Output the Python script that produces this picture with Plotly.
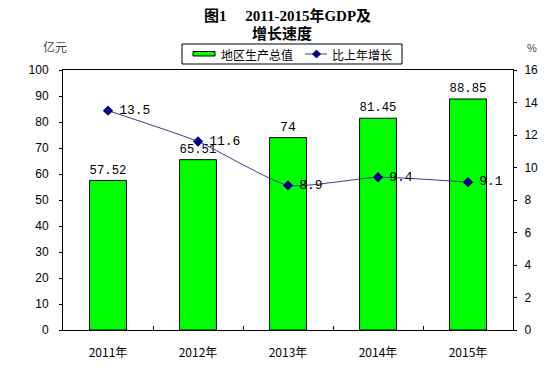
import plotly.graph_objects as go

years = ["2011年", "2012年", "2013年", "2014年", "2015年"]
gdp = [57.52, 65.51, 74, 81.45, 88.85]
gdp_labels = ["57.52", "65.51", "74", "81.45", "88.85"]
growth = [13.5, 11.6, 8.9, 9.4, 9.1]
growth_labels = ["13.5", "11.6", "8.9", "9.4", "9.1"]

# page body has an 8px margin, so the figure is drawn at (8, 8) on the 551x379 page
OFF = 8
W, H = 551 - OFF, 379 - OFF
L, R, T, B = 63 - OFF, 513 - OFF, 70 - OFF, 330 - OFF


def px(X):
    return (X - OFF - L) / (R - L)


def py(Y):
    return (B - (Y - OFF)) / (B - T)


fig = go.Figure()
fig.add_trace(go.Bar(
    x=years, y=gdp, name="地区生产总值",
    marker=dict(color="#00ff00", line=dict(color="black", width=1)),
    width=0.41,
    text=gdp_labels, textposition="outside",
    textfont=dict(family="Liberation Mono", size=13, color="black"),
    cliponaxis=False, showlegend=False,
))
fig.add_trace(go.Scatter(
    x=years, y=growth, name="比上年增长", yaxis="y2",
    mode="lines+markers+text",
    line=dict(color="#3a3a9a", width=1, shape="spline", smoothing=0.5),
    marker=dict(symbol="diamond", size=8, color="#000080"),
    text=growth_labels, texttemplate="\u2009\u2009%{text}", textposition="middle right",
    textfont=dict(family="Liberation Mono", size=13, color="black"),
    cliponaxis=False, showlegend=False,
))

title_font = dict(family="Liberation Serif, Noto Sans CJK SC", size=15, color="black")
cjk = dict(family="Noto Sans CJK SC", size=12, color="black")

shapes = [
    # legend box
    dict(type="rect", xref="paper", yref="paper", x0=px(182), x1=px(402), y0=py(64), y1=py(44),
         line=dict(color="black", width=1), fillcolor="white", layer="above"),
    dict(type="rect", xref="paper", yref="paper", x0=px(193), x1=px(215), y0=py(56), y1=py(51.5),
         line=dict(color="black", width=1), fillcolor="#00ff00", layer="above"),
    dict(type="line", xref="paper", yref="paper", x0=px(305), x1=px(327), y0=py(54), y1=py(54),
         line=dict(color="#3a3a9a", width=1), layer="above"),
    dict(type="path", xref="paper", yref="paper",
         path=f"M {px(316.5)},{py(50)} L {px(320.5)},{py(54)} L {px(316.5)},{py(58)} L {px(312.5)},{py(54)} Z",
         line=dict(color="#000080", width=1), fillcolor="#000080", layer="above"),
]

annotations = [
    dict(text="<b>图1　 2011-2015年GDP及</b>", xref="paper", yref="paper", x=px(287), y=py(15),
         xanchor="center", yanchor="middle", showarrow=False, font=title_font),
    dict(text="<b>增长速度</b>", xref="paper", yref="paper", x=px(282), y=py(33),
         xanchor="center", yanchor="middle", showarrow=False, font=title_font),
    dict(text="地区生产总值", xref="paper", yref="paper", x=px(219), y=py(54),
         xanchor="left", yanchor="middle", showarrow=False, font=cjk),
    dict(text="比上年增长", xref="paper", yref="paper", x=px(330), y=py(54),
         xanchor="left", yanchor="middle", showarrow=False, font=cjk),
    dict(text="亿元", xref="paper", yref="paper", x=px(55), y=py(46),
         xanchor="center", yanchor="middle", showarrow=False,
         font=dict(family="Noto Sans CJK SC", size=12, color="#444")),
    dict(text="%", xref="paper", yref="paper", x=px(532), y=py(48),
         xanchor="center", yanchor="middle", showarrow=False,
         font=dict(family="Liberation Sans", size=11, color="#444")),
]

fig.update_layout(
    width=W, height=H,
    margin=dict(l=L, r=W - R, t=T, b=H - B, autoexpand=False),
    paper_bgcolor="white", plot_bgcolor="white",
    font=dict(family="Liberation Sans", size=12, color="black"),
    showlegend=False,
    bargap=0.59,
    xaxis=dict(showline=True, linecolor="black", linewidth=1, mirror=True,
               ticks="inside", ticklen=4, tickcolor="black", tickson="boundaries",
               tickfont=dict(family="Noto Sans CJK SC", size=12),
               ticklabelstandoff=12, showgrid=False),
    yaxis=dict(range=[0, 100], dtick=10, showline=True, linecolor="black", linewidth=1,
               ticks="outside", ticklen=3, tickcolor="black", showgrid=False, zeroline=False,
               ticklabelstandoff=8, tickfont=dict(size=12)),
    yaxis2=dict(range=[0, 16], dtick=2, overlaying="y", side="right", showline=True,
                linecolor="black", linewidth=1, ticks="outside", ticklen=3, tickcolor="black",
                showgrid=False, zeroline=False, ticklabelstandoff=5, tickfont=dict(size=12)),
    shapes=shapes,
    annotations=annotations,
)

fig.write_html("out.html")
